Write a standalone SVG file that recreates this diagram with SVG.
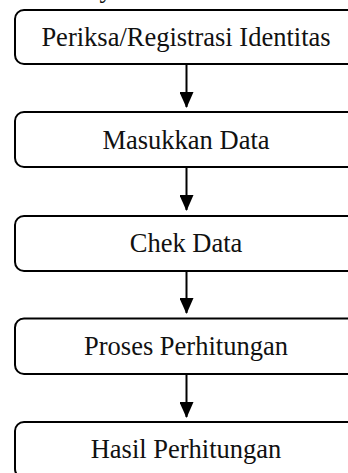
<svg xmlns="http://www.w3.org/2000/svg" width="348" height="473" viewBox="0 0 348 473">
  <style>
    .box { fill: #ffffff; stroke: #000000; stroke-width: 2; }
    .label { font-family: "Liberation Serif", "Times New Roman", serif; font-size: 26.5px; fill: #111111; text-anchor: middle; }
    .flow { stroke: #000000; stroke-width: 2; fill: none; marker-end: url(#arrow); }
  </style>
  <defs>
    <!-- solid triangular arrowhead, tip at the end of the line -->
    <marker id="arrow" markerUnits="userSpaceOnUse" markerWidth="16" markerHeight="14" viewBox="0 0 16 14" refX="15" refY="7" orient="auto">
      <path d="M0,0 L16,7 L0,14 Z" fill="#000000"/>
    </marker>
  </defs>
  <rect width="348" height="473" fill="#ffffff"/>

  <!-- heading above the flow, clipped at the top edge -->
  <text class="label" x="106" y="-3">y</text>

  <g id="connectors">
    <line class="flow" x1="186.5" y1="65" x2="186.5" y2="107"/>
    <line class="flow" x1="186.5" y1="168" x2="186.5" y2="210"/>
    <line class="flow" x1="186.5" y1="271" x2="186.5" y2="313"/>
    <line class="flow" x1="186.5" y1="374" x2="186.5" y2="417"/>
  </g>

  <g id="periksa">
    <rect class="box" x="15" y="10" width="342" height="54" rx="9"/>
    <text class="label" x="186" y="45.5">Periksa/Registrasi Identitas</text>
  </g>
  <g id="masukkan">
    <rect class="box" x="15" y="112" width="342" height="55" rx="9"/>
    <text class="label" x="186" y="148.5">Masukkan Data</text>
  </g>
  <g id="chek">
    <rect class="box" x="15" y="216" width="342" height="55" rx="9"/>
    <text class="label" x="186" y="252">Chek Data</text>
  </g>
  <g id="proses">
    <rect class="box" x="15" y="318.5" width="342" height="55.5" rx="9"/>
    <text class="label" x="186" y="355">Proses Perhitungan</text>
  </g>
  <g id="hasil">
    <rect class="box" x="15" y="422" width="342" height="56" rx="9"/>
    <text class="label" x="186" y="458">Hasil Perhitungan</text>
  </g>
</svg>
